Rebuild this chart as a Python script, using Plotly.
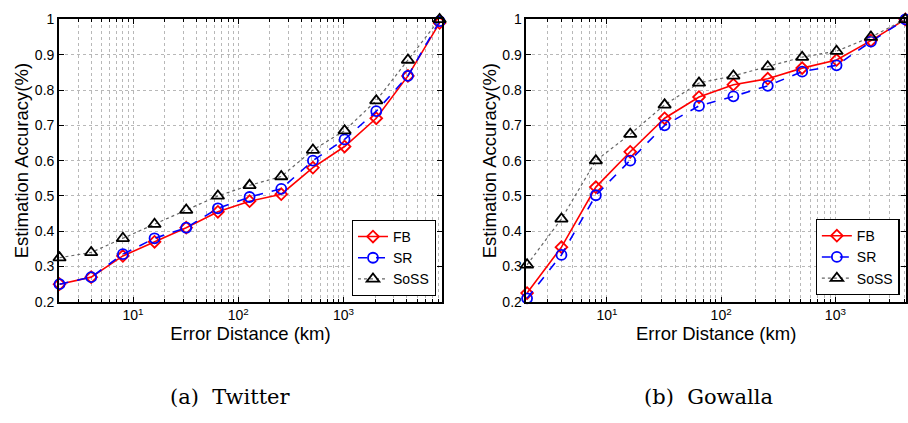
import math
import plotly.graph_objects as go

x_tw = [2, 4, 8, 16, 32, 64, 128, 256, 512, 1024, 2048, 4096, 8192]
tw_fb = [0.25, 0.27, 0.33, 0.37, 0.41, 0.455, 0.485, 0.505, 0.58, 0.64, 0.72, 0.84, 0.99]
tw_sr = [0.25, 0.27, 0.335, 0.38, 0.41, 0.465, 0.497, 0.52, 0.60, 0.66, 0.74, 0.84, 0.995]
tw_soss = [0.325, 0.34, 0.38, 0.42, 0.46, 0.50, 0.53, 0.555, 0.63, 0.685, 0.77, 0.885, 1.0]

x_gw = [2, 4, 8, 16, 32, 64, 128, 256, 512, 1024, 2048, 4096]
gw_fb = [0.225, 0.355, 0.525, 0.625, 0.72, 0.78, 0.815, 0.832, 0.862, 0.885, 0.94, 1.0]
gw_sr = [0.21, 0.333, 0.502, 0.60, 0.70, 0.755, 0.782, 0.812, 0.852, 0.87, 0.937, 1.0]
gw_soss = [0.305, 0.435, 0.60, 0.675, 0.758, 0.82, 0.84, 0.866, 0.893, 0.91, 0.95, 1.0]

names = ["FB", "SR", "SoSS"]
captions = ["(a)\u00a0\u00a0Twitter", "(b)\u00a0\u00a0Gowalla"]
x_tickvals = [10, 100, 1000]
x_ticktext = ["10<sup>1</sup>", "10<sup>2</sup>", "10<sup>3</sup>"]

styles = [
    dict(color="#ff0000", lcolor="#ff0000", dash="solid", width=1.6, symbol="diamond-open", size=9),
    dict(color="#0000ff", lcolor="#0000ff", dash="dash", width=1.6, symbol="circle-open", size=10),
    dict(color="#000000", lcolor="#666666", dash="dot", width=1.2, symbol="triangle-up-open", size=11),
]

fig = go.Figure()
panels = [
    (x_tw, [tw_fb, tw_sr, tw_soss], "x", "y", "legend"),
    (x_gw, [gw_fb, gw_sr, gw_soss], "x2", "y2", "legend2"),
]
for xs, series, xa, ya, lg in panels:
    for name, ys, st in zip(names, series, styles):
        fig.add_trace(go.Scatter(
            x=xs, y=ys, name=name, mode="lines+markers", xaxis=xa, yaxis=ya, legend=lg,
            line=dict(color=st["lcolor"], dash=st["dash"], width=st["width"]),
            marker=dict(symbol=st["symbol"], size=st["size"], color=st["color"],
                        line=dict(width=1.8, color=st["color"])),
            cliponaxis=False,
        ))

FONT = "Liberation Sans, Arial, sans-serif"
tickfont = dict(family=FONT, size=14, color="#000")
titlefont = dict(family=FONT, size=18.5, color="#000")
grid = dict(showgrid=True, gridcolor="#b8b8b8", griddash="dot", gridwidth=1)

def xaxis(domain, rng, anchor):
    return dict(
        domain=domain, type="log", range=rng, anchor=anchor,
        tickmode="array", tickvals=x_tickvals, ticktext=x_ticktext,
        showline=True, linecolor="#000", linewidth=1.5, mirror="ticks",
        ticks="inside", ticklen=5, tickcolor="#000", tickfont=tickfont,
        title=dict(text="Error Distance (km)", font=titlefont, standoff=4),
        minor=dict(dtick="D1", ticks="inside", ticklen=3, tickcolor="#000", **grid),
        zeroline=False, **grid,
    )

def yaxis(anchor):
    return dict(
        domain=[0.278, 0.972], range=[0.2, 1.0], dtick=0.1, anchor=anchor,
        showline=True, linecolor="#000", linewidth=1.5, mirror="ticks",
        ticks="inside", ticklen=5, tickcolor="#000", tickfont=tickfont,
        title=dict(text="Estimation Accuracy(%)", font=titlefont, standoff=1),
        zeroline=False, **grid,
    )

legend_common = dict(
    xanchor="right", yanchor="bottom", bgcolor="white", bordercolor="#000", borderwidth=1.2,
    font=dict(family=FONT, size=14, color="#000"), tracegroupgap=0, itemwidth=30,
)

fig.update_layout(
    width=908, height=423, margin=dict(l=0, r=0, t=0, b=0),
    plot_bgcolor="white", paper_bgcolor="white", showlegend=True,
    xaxis=xaxis([0.065, 0.488], [math.log10(2) - 0.006, math.log10(8192) + 0.024], "y"),
    yaxis=yaxis("x"),
    xaxis2=xaxis([0.581, 1.0], [math.log10(2) - 0.006, math.log10(4096) + 0.006], "y2"),
    yaxis2=yaxis("x2"),
    legend=dict(x=0.481, y=0.293, **legend_common),
    legend2=dict(x=0.993, y=0.295, **legend_common),
)

for cx, txt in zip([0.254, 0.782], captions):
    fig.add_annotation(text=txt, x=cx, y=1 - 404 / 423, xref="paper", yref="paper",
                       xanchor="center", yanchor="middle", showarrow=False,
                       font=dict(family="DejaVu Serif, Liberation Serif, serif", size=21, color="#000"))

fig.write_html("out.html", config={"displayModeBar": False},
               post_script="document.body.style.margin='0';document.body.style.overflow='hidden';")
